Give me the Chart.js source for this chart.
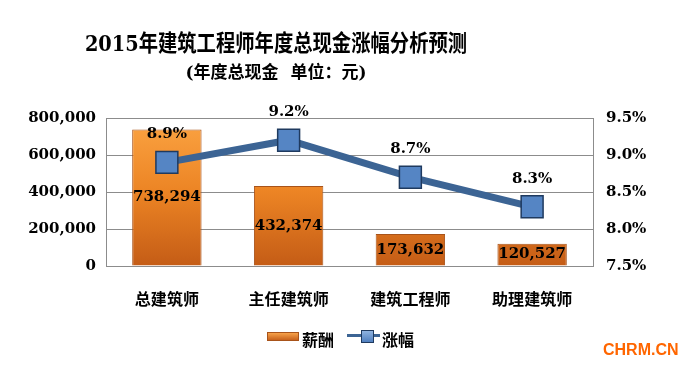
<!DOCTYPE html>
<html>
<head>
<meta charset="utf-8">
<script src="https://cdn.jsdelivr.net/npm/chart.js@4.4.1/dist/chart.umd.min.js"></script>
<style>
  body { margin: 0; background: #fff; }
  #wrap { position: relative; width: 691px; height: 370px; }
  .txt { position: absolute; white-space: nowrap; font-weight: bold; color: #000; }
  #title { left: 276px; top: 24px; transform: translateX(-50%) scaleX(0.84); font: bold 23px 'DejaVu Serif', 'Noto Sans CJK SC'; }
  #subtitle { left: 276px; top: 58px; transform: translateX(-50%); font: bold 17px 'DejaVu Serif', 'Noto Sans CJK SC'; }
  #brand { left: 603px; top: 341px; font: bold 16px 'Liberation Sans', Arial; color: #ff6600; }
  .lg { position: absolute; }
</style>
</head>
<body>
<div id="wrap">
  <canvas id="chart" width="691" height="370"></canvas>
  <div id="title" class="txt">2015年建筑工程师年度总现金涨幅分析预测</div>
  <div id="subtitle" class="txt">(年度总现金&nbsp;&nbsp;单位：元)</div>
  <!-- leyenda -->
  <div class="lg" style="left:267px;top:332px;width:30px;height:7px;background:linear-gradient(#f7a24a,#c8621c);border:1px solid #a8531a;"></div>
  <div class="txt" style="left:302px;top:327px;font:bold 16px 'Noto Sans CJK SC';">薪酬</div>
  <div class="lg" style="left:347px;top:334px;width:33px;height:3px;background:#3c6494;"></div>
  <div class="lg" style="left:361px;top:330px;width:11px;height:11px;background:linear-gradient(#8fb3e0,#4f7fbf);border:1px solid #1f3a5f;"></div>
  <div class="txt" style="left:382px;top:327px;font:bold 16px 'Noto Sans CJK SC';">涨幅</div>
  <div id="brand" class="txt">CHRM.CN</div>
</div>
<script>
// datos del grafico
const categorias = ['总建筑师', '主任建筑师', '建筑工程师', '助理建筑师'];
const salario = [738294, 432374, 173632, 120527];
const aumento = [8.9, 9.2, 8.7, 8.3];
const ticksIzq = [0, 200000, 400000, 600000, 800000];
const ticksDer = [7.5, 8.0, 8.5, 9.0, 9.5];

const fuenteNum = "'DejaVu Serif', 'Noto Sans CJK SC'";

// etiquetas de valores sobre las barras y puntos
const etiquetas = {
  id: 'etiquetas',
  afterDatasetsDraw(chart) {
    const ctx = chart.ctx;
    ctx.save();
    ctx.fillStyle = '#000';
    ctx.font = 'bold 15px ' + fuenteNum;
    ctx.textAlign = 'center';
    ctx.textBaseline = 'middle';
    chart.getDatasetMeta(1).data.forEach((bar, i) => {
      ctx.fillText(salario[i].toLocaleString('en-US'), bar.x, (bar.y + bar.base) / 2);
    });
    chart.getDatasetMeta(0).data.forEach((pt, i) => {
      ctx.fillText(aumento[i].toFixed(1) + '%', pt.x, pt.y - 28);
    });
    ctx.restore();
  }
};

function degradadoBarra(context) {
  const area = context.chart.chartArea;
  if (!area) return '#ee8a2c';
  const g = context.chart.ctx.createLinearGradient(0, area.top, 0, area.bottom);
  g.addColorStop(0, '#fba443');
  g.addColorStop(0.5, '#ec8424');
  g.addColorStop(1, '#c45c16');
  return g;
}

new Chart(document.getElementById('chart').getContext('2d'), {
  type: 'bar',
  data: {
    labels: categorias,
    datasets: [
      {
        type: 'line',
        label: '涨幅',
        data: aumento,
        yAxisID: 'y1',
        order: 0,
        borderColor: '#3c6494',
        borderWidth: 7,
        pointStyle: 'rect',
        pointRadius: 15.5,
        pointBackgroundColor: '#5585c4',
        pointBorderColor: '#1f3a5f',
        pointBorderWidth: 1.5,
        tension: 0
      },
      {
        label: '薪酬',
        data: salario,
        yAxisID: 'y',
        order: 1,
        backgroundColor: degradadoBarra,
        borderColor: '#a8531a',
        borderWidth: 1,
        barPercentage: 0.57,
        categoryPercentage: 1
      }
    ]
  },
  options: {
    responsive: false,
    animation: false,
    layout: { padding: { top: 118, bottom: 54, left: 0, right: 0 } },
    plugins: { legend: { display: false }, tooltip: { enabled: false } },
    scales: {
      x: {
        grid: { display: false, drawTicks: false },
        border: { color: '#8c8c8c' },
        ticks: { color: '#000', padding: 23, font: { size: 16, weight: 'bold', family: "'Noto Sans CJK SC'" } },
        afterFit: s => { s.height = 50; }
      },
      y: {
        position: 'left',
        min: 0, max: 800000,
        afterBuildTicks: s => { s.ticks = ticksIzq.map(v => ({ value: v })); },
        grid: { color: '#8c8c8c', drawTicks: false },
        border: { color: '#8c8c8c' },
        ticks: { color: '#000', padding: 10, font: { size: 15, weight: 'bold', family: fuenteNum },
                 callback: v => v.toLocaleString('en-US') },
        afterFit: s => { s.width = 106; }
      },
      y1: {
        position: 'right',
        min: 7.5, max: 9.5,
        afterBuildTicks: s => { s.ticks = ticksDer.map(v => ({ value: v })); },
        grid: { display: false, drawTicks: false },
        border: { color: '#8c8c8c' },
        ticks: { color: '#000', padding: 13, font: { size: 15, weight: 'bold', family: fuenteNum },
                 callback: v => v.toFixed(1) + '%' },
        afterFit: s => { s.width = 98; }
      }
    }
  },
  plugins: [etiquetas]
});
</script>
</body>
</html>
